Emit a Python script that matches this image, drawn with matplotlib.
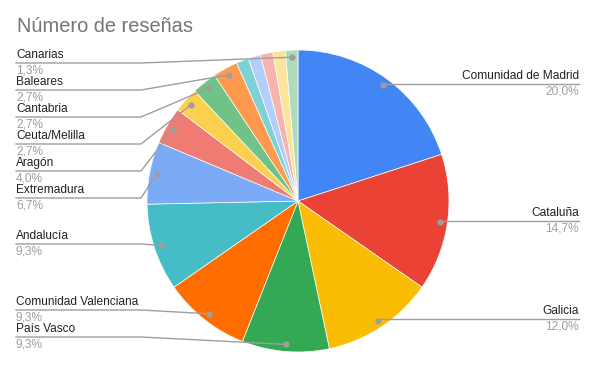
import numpy as np
import matplotlib.pyplot as plt

plt.rcParams['font.family'] = ['Liberation Sans', 'DejaVu Sans']

# === datos ===
regiones = ["Comunidad de Madrid", "Cataluña", "Galicia", "País Vasco",
            "Comunidad Valenciana", "Andalucía", "Extremadura", "Aragón",
            "Ceuta/Melilla", "Cantabria", "Baleares",
            "", "", "", "", "Canarias"]
resenas = [15, 11, 9, 7, 7, 7, 5, 3, 2, 2, 2, 1, 1, 1, 1, 1]
colores = ["#4285F4", "#EA4335", "#FBBC04", "#34A853", "#FF6D01", "#46BDC6",
           "#7BAAF7", "#F07B72", "#FCD04F", "#71C287", "#FF994D",
           "#7ED1D7", "#B3CEFB", "#F7B4AE", "#FDE49B", "#AEDCBA"]

# posicion vertical (px) de la linea de cada etiqueta
etiquetas_y = {"Comunidad de Madrid": 84, "Cataluña": 221, "Galicia": 319,
               "País Vasco": 337, "Comunidad Valenciana": 310, "Andalucía": 244,
               "Extremadura": 198, "Aragón": 171, "Ceuta/Melilla": 144,
               "Cantabria": 117, "Baleares": 90, "Canarias": 63}

W, H = 597, 369
cx, cy, R = 298, H - 201, 151

fig = plt.figure(figsize=(W / 100, H / 100), dpi=100)
ax = fig.add_axes([0, 0, 1, 1])

wedges, _ = ax.pie(resenas, colors=colores, startangle=90, counterclock=False,
                   center=(cx, cy), radius=R,
                   wedgeprops=dict(edgecolor="white", linewidth=0.5))
ax.set_xlim(0, W)
ax.set_ylim(0, H)
ax.set_aspect("equal")
ax.axis("off")

total = sum(resenas)
gris = "#9e9e9e"
for w, nombre, v in zip(wedges, regiones, resenas):
    if not nombre:
        continue
    ang = np.deg2rad((w.theta1 + w.theta2) / 2)
    dx = cx + 0.953 * R * np.cos(ang)
    dy = cy + 0.953 * R * np.sin(ang)
    ly = H - etiquetas_y[nombre]
    pct = f"{100 * v / total:.1f}%".replace(".", ",")
    if dx > cx:
        ax.plot([dx, 579], [ly, ly], color=gris, lw=1, zorder=3)
        x_txt, ha = 579, "right"
    else:
        codo = min(141, dx)
        ax.plot([16, codo, dx], [ly, ly, dy], color=gris, lw=1, zorder=3)
        x_txt, ha = 16, "left"
    ax.plot(dx, dy, "o", color=gris, ms=3.5, zorder=4)
    ax.text(x_txt, ly + 2, nombre, ha=ha, va="bottom", fontsize=8.6, color="#222222")
    ax.text(x_txt, ly - 1.5, pct, ha=ha, va="top", fontsize=8.6, color=gris)

fig.text(17 / W, 1 - 27 / H, "Número de reseñas", fontsize=14.4, color="#757575",
         va="center", ha="left")

fig.savefig("out.png", dpi=100, facecolor="white")
